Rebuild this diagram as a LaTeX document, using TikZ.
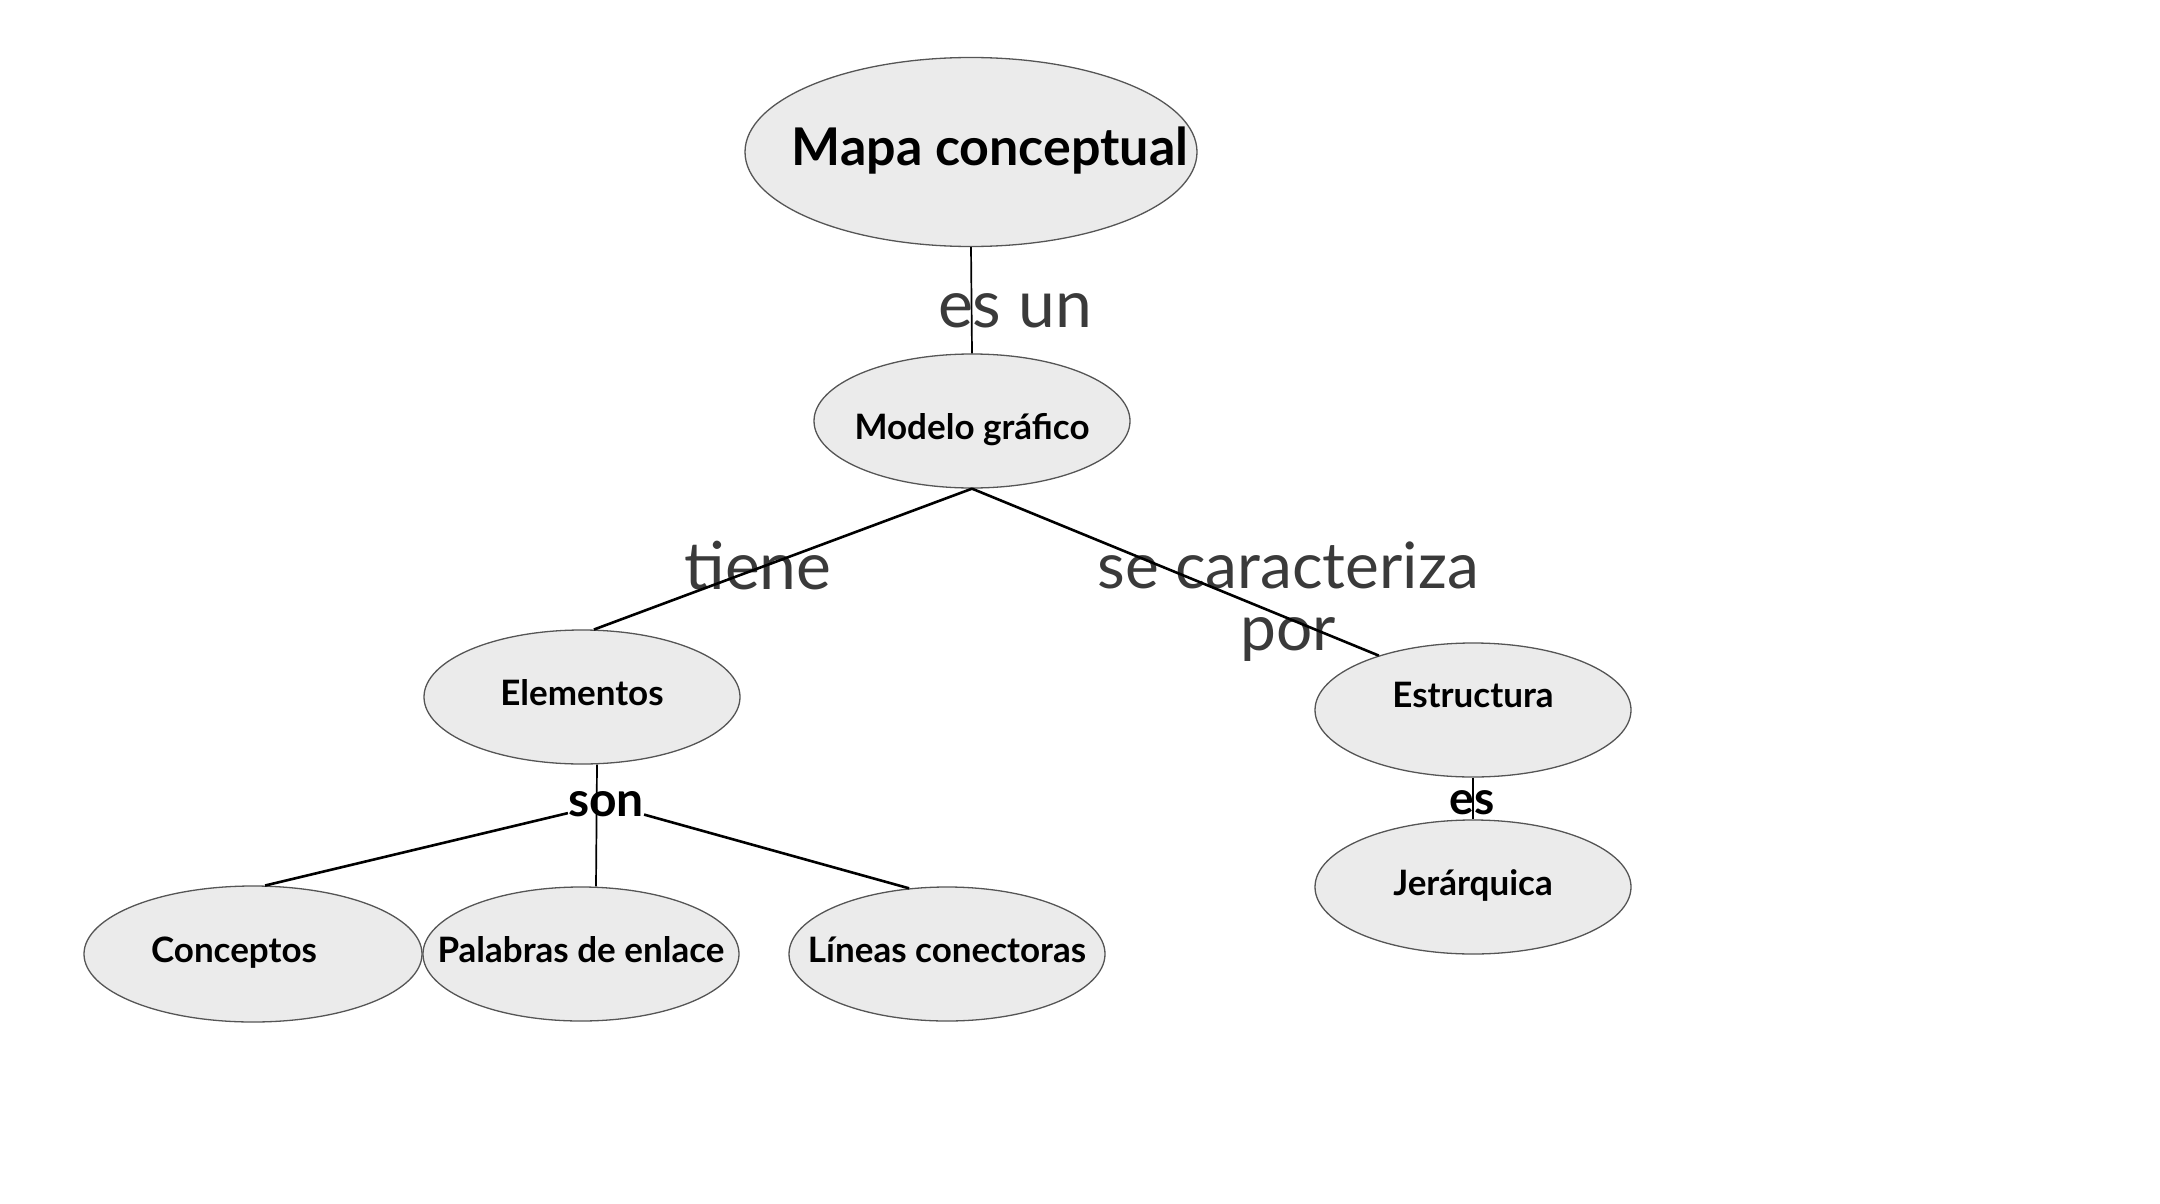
\documentclass[tikz,border=0pt]{standalone}
\usepackage{fontspec}
\setmainfont{Lato}
\usetikzlibrary{shapes.geometric}
\definecolor{nodefill}{HTML}{EBEBEB}
\definecolor{nodeline}{HTML}{555555}
\definecolor{ink}{HTML}{3A3A3A}
\newcommand\ctxt[1]{\makebox[0pt]{#1}}

\begin{document}
\begin{tikzpicture}[x=1pt,y=-1pt,
  concept/.style={ellipse,draw=nodeline,fill=nodefill,line width=1.3pt,inner sep=0pt,
    minimum width=316pt,minimum height=134pt,text height=24pt,text depth=7pt,
    font=\fontsize{35}{40}\selectfont\bfseries},
  link/.style={text=ink,inner sep=0pt,align=center,font=\fontsize{66}{60}\selectfont},
  branch/.style={line width=2.6pt},
  stem/.style={line width=1.7pt}]
\useasboundingbox (0,0) rectangle (2160,1204);

% conceptos
\node[concept,minimum width=452pt,minimum height=189pt,text height=36pt,text depth=10pt,
      font=\fontsize{52}{56}\selectfont\bfseries] (mapa) at (971,152) {\ctxt{\hspace*{38pt}Mapa conceptual}};
\node[concept] (modelo) at (972,421) {\ctxt{\raisebox{-10pt}{Modelo gráfico}}};
\node[concept] (elementos) at (582,697) {\ctxt{Elementos}};
\node[concept] (estructura) at (1473,710) {\ctxt{\raisebox{11pt}{Estructura}}};
\node[concept] (jerarquica) at (1473,887) {\ctxt{Jerárquica}};
\node[concept,minimum width=338pt,minimum height=136pt] (conceptos) at (253,954) {\ctxt{Conceptos\hspace*{38pt}}};
\node[concept] (palabras) at (581,954) {\ctxt{Palabras de enlace}};
\node[concept] (lineas) at (947,954) {\ctxt{Líneas conectoras}};

% palabras de enlace
\node[link] (esun) at (1015,311) {es un};
\node[link] (tiene) at (758,566) {tiene};
\node[link,font=\fontsize{64}{62}\selectfont] (caract) at (1288,602) {se caracteriza\\ por};
\node[link,text=black,font=\fontsize{48}{50}\selectfont\bfseries] (son) at (606,804) {son};
\node[link,text=black,font=\fontsize{46}{50}\selectfont\bfseries] (es) at (1472,803) {es};

% conectores
\draw[stem] (mapa.south) -- (modelo.north);
\draw[branch] (modelo.south) -- (elementos.80);
\draw[branch] (modelo.south) -- (estructura.150);
\draw[stem] ([xshift=15pt]elementos.south) -- ([xshift=15pt]palabras.north);
\draw[branch] (son) -- (conceptos.80);
\draw[branch] (son) -- (lineas.120);
\draw[stem] (estructura.south) -- (jerarquica.north);
\end{tikzpicture}
\end{document}
